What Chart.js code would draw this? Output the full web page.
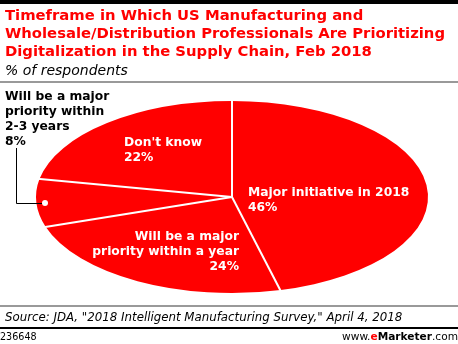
<!DOCTYPE html>
<html><head><meta charset="utf-8">
<script src="https://cdn.jsdelivr.net/npm/chart.js@4/dist/chart.umd.min.js"></script>
<style>
html,body{margin:0;padding:0;background:#fff;}
#wrap{position:relative;width:458px;height:344px;overflow:hidden;font-family:"DejaVu Sans",Verdana,sans-serif;}
#c{position:absolute;left:0;top:0;}
.abs{position:absolute;white-space:nowrap;}
.topbar{left:0;top:0;width:458px;height:4px;background:#000;}
.title{left:5px;top:6px;color:#f00;font-weight:bold;font-size:14.8px;line-height:18px;}
.sub{left:5px;top:61px;font-style:italic;font-size:14px;line-height:18px;color:#000;}
.gline{left:0;width:458px;height:2px;background:#999;}
.src{left:5px;top:309px;font-style:italic;font-size:11.8px;line-height:16px;color:#000;}
.bline{left:0;top:327px;width:458px;height:2px;background:#000;}
.id{left:0;top:331px;font-size:9.6px;line-height:12px;color:#000;}
.brand{right:0;top:330px;font-size:10.6px;line-height:13px;color:#000;}
.brand b.e{color:#f00;}
</style></head>
<body>
<div id="wrap">
  <canvas id="c" width="458" height="344"></canvas>
  <div class="abs topbar"></div>
  <div class="abs title">Timeframe in Which US Manufacturing and<br>Wholesale/Distribution Professionals Are Prioritizing<br>Digitalization in the Supply Chain, Feb 2018</div>
  <div class="abs sub">% of respondents</div>
  <div class="abs gline" style="top:81px"></div>
  <div class="abs gline" style="top:305px"></div>
  <div class="abs src">Source: JDA, "2018 Intelligent Manufacturing Survey," April 4, 2018</div>
  <div class="abs bline"></div>
  <div class="abs id">236648</div>
  <div class="abs brand">www.<b class="e">e</b><b>Marketer</b>.com</div>
</div>
<script>
// ---- data ----
const categories = ["Major initiative in 2018", "Will be a major priority within a year", "Will be a major priority within 2-3 years", "Don't know"];
const values = [46, 24, 8, 22];
const labelLines = [
  ["Major initiative in 2018"],
  ["Will be a major", "priority within a year"],
  ["Will be a major", "priority within", "2-3 years"],
  ["Don't know"]
];

// ---- layout / style ----
const RED = "#ff0000";
const RX = 196;               // horizontal radius of the elliptical pie
const labelLayout = [
  {x: 248, y: 193, align: "left",  color: "#fff"},
  {x: 239, y: 237, align: "right", color: "#fff"},
  {x: 5,   y: 97,  align: "left",  color: "#000"},
  {x: 124, y: 143, align: "left",  color: "#fff"}
];
const LINE_H = 15;

const ellipsePlugin = {
  id: "ellipse",
  beforeDatasetsDraw(chart) {
    const arc = chart.getDatasetMeta(0).data[0];
    const sx = RX / arc.outerRadius;
    const ctx = chart.ctx;
    ctx.save();
    ctx.translate(arc.x, 0);
    ctx.scale(sx, 1);
    ctx.translate(-arc.x, 0);
  },
  afterDatasetsDraw(chart) {
    const ctx = chart.ctx;
    ctx.restore();
    const meta = chart.getDatasetMeta(0);
    const cx = meta.data[0].x, cy = meta.data[0].y, ry = meta.data[0].outerRadius;
    // separators
    ctx.save();
    ctx.strokeStyle = "#fff";
    ctx.lineWidth = 2;
    meta.data.forEach(a => {
      const ang = a.startAngle;
      ctx.beginPath();
      ctx.moveTo(cx, cy);
      ctx.lineTo(cx + Math.cos(ang) * (RX + 2), cy + Math.sin(ang) * (ry + 2));
      ctx.stroke();
    });
    ctx.restore();
    // connector for the small slice
    ctx.save();
    ctx.strokeStyle = "#000";
    ctx.lineWidth = 1;
    ctx.beginPath();
    ctx.moveTo(16.5, 148);
    ctx.lineTo(16.5, 203.5);
    ctx.lineTo(42, 203.5);
    ctx.stroke();
    ctx.fillStyle = "#fff";
    ctx.beginPath();
    ctx.arc(45, 203, 3, 0, Math.PI * 2);
    ctx.fill();
    ctx.restore();
    // labels
    ctx.save();
    ctx.font = "bold 12.3px 'DejaVu Sans'";
    ctx.textBaseline = "middle";
    labelLines.forEach((lines, i) => {
      const L = labelLayout[i];
      ctx.fillStyle = L.color;
      ctx.textAlign = L.align;
      const all = lines.concat([values[i] + "%"]);
      all.forEach((t, k) => ctx.fillText(t, L.x, L.y + k * LINE_H));
    });
    ctx.restore();
  }
};

new Chart(document.getElementById("c"), {
  type: "pie",
  data: {
    labels: categories,
    datasets: [{
      data: values,
      backgroundColor: RED,
      borderWidth: 0,
      hoverOffset: 0
    }]
  },
  options: {
    responsive: false,
    animation: false,
    rotation: 0,
    layout: {padding: {top: 101, bottom: 51, left: 136, right: 130}},
    plugins: {legend: {display: false}, tooltip: {enabled: false}, title: {display: false}}
  },
  plugins: [ellipsePlugin]
});
</script>
</body></html>
